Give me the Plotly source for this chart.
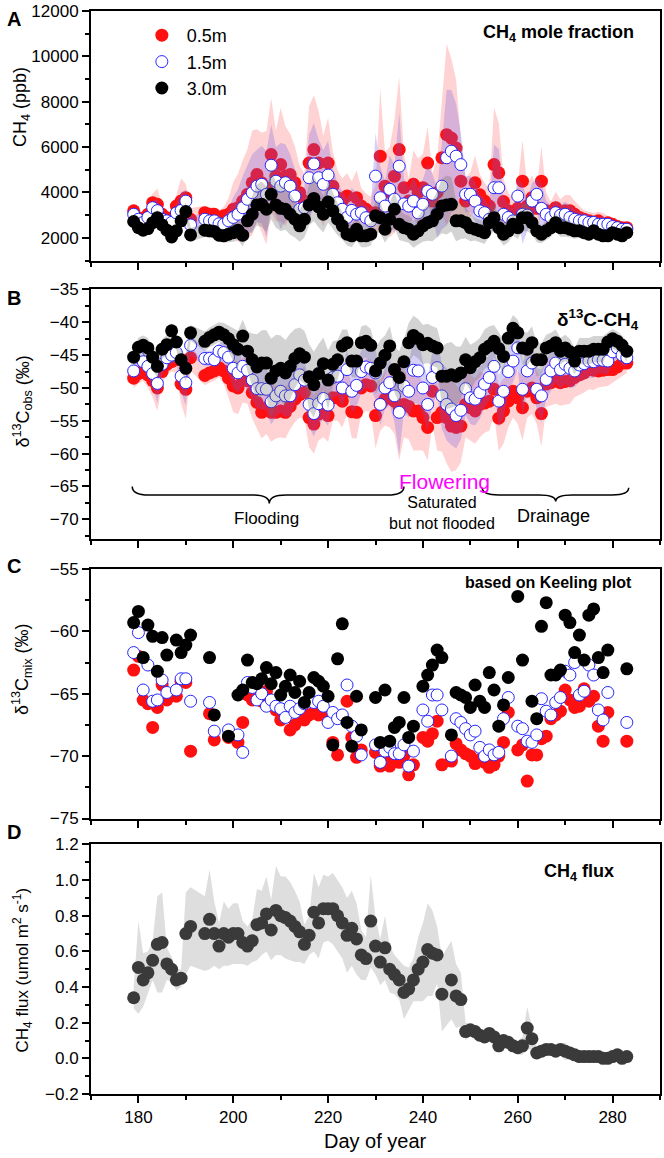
import plotly.graph_objects as go

# ---------------- data ----------------
day = list(range(179, 284))
N = None

a05 = [3190, 2890, 2750, 3040, 3550, 3480, 3040, 2890, 2820, 3400,
       3620, 3770, 2820, N, N, 3110, 3040, 3040, 2890, 2970,
       3040, 3260, 3330, 3620, 3920, 4430, 4790, 4430, 4210, 5670,
       4720, 5230, 4720, 4790, 4430, 3990, 3620, 5300, 5890, 5300,
       4500, 5300, 4280, 3770, 3620, 3850, 3190, 3770, 3400, 3260,
       3110, 3110, 5600, 4280, 4000, 4720, 5890, 4210, 3620, 4360,
       4000, 4210, 5300, 3620, 4000, 5530, 6550, 6400, 5960, 4500,
       3620, 3900, 4430, 3900, 3620, 3400, 5230, 4870, 3600, 3190,
       3040, 3300, 4500, 3400, 3770, 3300, 4500, 3190, 3000, 3330,
       3100, 3190, 3190, 3040, 2900, 2820, 2750, 2700, 2750, 2600,
       2670, 2600, 2500, 2450, 2450]
a15 = [3040, 2820, 2680, 2900, 3330, 3200, 2820, 2750, 2680, 3100,
       3210, 3620, 2570, N, N, 2820, 2750, 2750, 2620, 2600,
       2750, 2900, 3040, 3330, 3700, 3990, 4280, 4360, 3920, 5200,
       4500, 4280, 4430, 4280, 3840, 3260, 3330, 4650, 5260, 4650,
       4360, 4770, 3920, 3550, 3260, 2900, 3210, 3040, 3110, 2890,
       2750, 4720, 3770, 3400, 4140, 3700, 5160, 3500, 3400, 3620,
       3100, 3480, 4060, 3920, 3100, 4280, 5530, 5820, 5600, 5230,
       3920, 3920, 3620, 3190, 3110, 2820, 4210, 4210, 3040, 2900,
       2750, 3840, 3040, 3000, 3620, 3920, 3300, 3040, 2900, 3110,
       3000, 3040, 2900, 2820, 2750, 2750, 2680, 2680, 2600, 2600,
       2600, 2500, 2450, 2380, 2380]
a30 = [2720, 2450, 2340, 2410, 2670, 2890, 2570, 2340, 2040, 2310,
       2750, 3160, 2130, N, N, 2340, 2310, 2280, 2120, 2090,
       2160, 2230, 2340, 2120, 2750, 3040, 3450, 3480, 3260, 3920,
       3450, 3300, 3260, 3040, 2820, 2530, 2820, 3450, 3740, 3360,
       3040, 3580, 3190, 2820, 2530, 2160, 2090, 2380, 2090, 2090,
       2160, 2970, 2890, 2380, 2820, 3260, 2600, 2450, 2380, 2160,
       2310, 2530, 2670, 2750, 3040, 3400, 3450, 3480, 2750, 2750,
       2670, 2450, 2380, 2310, 2230, 2670, 2890, 2450, 2160, 2310,
       2600, 2450, 2890, 2890, 2670, 2310, 2160, 2310, 2450, 2670,
       2450, 2450, 2380, 2310, 2310, 2230, 2160, 2310, 2160, 2090,
       2090, 2230, 2160, 2090, 2230]
sd_a05 = [300, 250, 300, 450, 400, 700, 400, 300, 300, 500,
          1000, 600, 500, N, N, 300, 300, 300, 300, 400,
          700, 1200, 1500, 1800, 2000, 2300, 2000, 2200, 2500, 2500,
          2000, 2500, 2200, 1800, 1600, 1200, 1200, 2500, 2400, 2300,
          2000, 2000, 1500, 1200, 1000, 1000, 1300, 1200, 800, 700,
          700, 1200, 3000, 1500, 2000, 2500, 3200, 1500, 1000, 1500,
          1500, 1500, 1600, 1200, 1500, 2500, 4000, 3500, 3000, 1800,
          1000, 1000, 1200, 900, 800, 800, 2500, 2200, 1000, 800,
          700, 1000, 1800, 900, 1000, 900, 1500, 800, 600, 700,
          600, 700, 700, 600, 500, 400, 400, 400, 400, 500,
          300, 300, 250, 250, 250]
sd_a15 = [250, 200, 250, 350, 300, 500, 300, 250, 250, 400,
          800, 500, 400, N, N, 250, 250, 250, 250, 300,
          500, 900, 1100, 1400, 1500, 1700, 1600, 1700, 1900, 1800,
          1500, 1900, 1700, 1400, 1200, 900, 900, 1900, 1800, 1700,
          1500, 1500, 1100, 900, 800, 800, 1000, 900, 600, 550,
          550, 1900, 1400, 1100, 1500, 1500, 2400, 1100, 800, 1100,
          1100, 1100, 1200, 900, 1100, 1900, 3000, 2700, 2300, 1400,
          800, 800, 900, 700, 600, 600, 1900, 1700, 800, 600,
          550, 800, 1300, 700, 800, 700, 1100, 600, 500, 550,
          450, 550, 550, 450, 400, 300, 300, 300, 300, 350,
          250, 250, 200, 200, 200]
sd_a30 = [300, 250, 250, 300, 300, 350, 300, 250, 250, 300,
          350, 400, 300, N, N, 300, 300, 300, 300, 300,
          350, 400, 450, 500, 600, 800, 900, 1000, 1000, 1100,
          1000, 1000, 900, 900, 800, 700, 800, 900, 1000, 900,
          800, 900, 800, 700, 600, 500, 500, 500, 500, 500,
          500, 700, 700, 600, 700, 800, 700, 600, 600, 600,
          600, 700, 800, 900, 1000, 1200, 1300, 1200, 900, 800,
          700, 600, 500, 500, 500, 600, 600, 500, 500, 500,
          500, 500, 600, 600, 500, 500, 400, 400, 400, 400,
          400, 400, 350, 350, 300, 300, 300, 300, 300, 250,
          250, 250, 200, 200, 200]

b05 = [-48.5, -47.8, -47.4, -48.0, -48.9, -50.0, -47.5, -46.4, -46.0, -45.7,
       -49.4, -50.2, -45.4, N, N, -48.1, -47.7, -47.4, -46.9, -47.4,
       -48.5, -49.7, -50.0, -48.7, -48.9, -50.7, -52.2, -53.7, -53.0, -53.7,
       -53.7, -53.5, -53.7, -52.8, -51.7, -51.0, -50.7, -54.5, -55.5, -54.0,
       -53.5, -54.2, -51.5, -51.5, -52.0, -50.5, -53.6, -53.7, -50.0, -49.5,
       -49.7, -54.2, -52.5, -51.7, -51.5, -52.0, -53.0, -52.5, -52.8, -53.5,
       -53.5, -54.5, -56.0, -50.5, -54.5, -53.7, -54.5, -55.8, -56.0, -55.8,
       -52.5, -53.0, -53.5, -52.5, -52.3, -52.0, -50.2, -54.6, -53.5, -52.0,
       -50.5, -51.5, -53.0, -50.5, -50.0, -51.5, -53.9, -49.4, -49.2, -48.9,
       -49.2, -49.0, -48.9, -48.4, -48.0, -47.7, -47.2, -47.3, -47.4, -47.3,
       -47.2, -47.2, -46.8, -46.2, -46.2]
b15 = [-47.4, -45.3, -46.0, -46.7, -47.8, -49.3, -46.4, -45.4, -45.0, -44.6,
       -48.2, -49.2, -43.5, N, N, -45.5, -45.5, -45.7, -44.4, -44.6,
       -45.3, -47.0, -47.7, -46.7, -47.3, -48.8, -50.1, -50.1, -50.2, -52.1,
       -51.2, -50.5, -51.2, -51.2, -49.5, -48.0, -48.8, -52.5, -53.9, -52.4,
       -51.6, -52.6, -48.4, -48.2, -50.0, -47.2, -50.5, -49.6, -47.5, -46.8,
       -47.0, -47.7, -52.5, -50.0, -49.2, -51.2, -53.7, -49.7, -50.5, -47.3,
       -47.4, -50.0, -52.5, -48.4, -46.9, -51.2, -52.5, -53.2, -54.2, -53.4,
       -50.1, -51.5, -51.7, -50.7, -49.4, -48.4, -46.7, -52.0, -50.5, -47.5,
       -45.9, -43.9, -50.2, -47.4, -46.2, -50.2, -51.2, -48.7, -47.4, -46.2,
       -47.2, -46.4, -47.0, -47.4, -46.5, -46.3, -45.9, -46.0, -45.7, -45.8,
       -45.9, -44.5, -43.9, -45.0, -45.4]
b30 = [-45.3, -43.8, -43.5, -43.9, -45.3, -46.7, -44.1, -43.4, -41.3, -43.0,
       -45.7, -47.0, -41.6, N, N, -42.9, -42.3, -41.9, -41.5, -41.9,
       -42.5, -43.4, -44.1, -42.1, -44.4, -45.7, -46.8, -46.2, -46.2, -48.5,
       -47.4, -47.0, -47.7, -46.7, -45.5, -44.8, -45.3, -48.3, -49.5, -47.8,
       -46.3, -48.8, -46.4, -45.7, -43.6, -43.1, -45.9, -45.9, -43.1, -42.9,
       -43.5, -47.4, -46.2, -45.0, -43.6, -47.2, -48.4, -46.0, -43.1, -42.0,
       -42.5, -43.4, -43.2, -43.6, -43.9, -48.2, -48.2, -48.0, -48.2, -47.7,
       -45.7, -46.9, -46.0, -45.4, -44.1, -43.6, -42.9, -44.0, -45.2, -42.4,
       -40.9, -41.6, -43.9, -44.1, -43.1, -45.7, -45.7, -43.9, -43.6, -43.1,
       -44.4, -43.9, -44.5, -45.9, -44.4, -44.4, -44.4, -44.1, -44.1, -44.1,
       -43.0, -42.5, -42.9, -43.5, -44.4]
sd_b05 = [1.5, 1.5, 1.5, 2, 2.5, 3.5, 2, 1.5, 1.5, 2,
          3, 4.5, 2, N, N, 1.5, 1.5, 1.5, 1.5, 2,
          3, 4, 4, 3.5, 3.5, 4, 4, 4, 4, 4.5,
          4, 4, 4, 3.5, 3.5, 3.5, 4, 4.5, 4.5, 4,
          4, 4, 3.5, 3.5, 4, 3.5, 4, 4, 4, 4,
          4, 5, 4, 4, 4.5, 5, 8, 5, 5, 6,
          6, 5, 5, 5, 5, 6, 7, 7, 6.5, 5.5,
          5, 5, 5, 5, 4.5, 4.5, 4, 5, 5, 4,
          4, 4, 5, 4, 4, 4, 5, 3.5, 3.5, 3.5,
          3.5, 3.5, 3.5, 3, 3, 3, 3, 3, 2.5, 2.5,
          2.5, 2, 2, 2, 1.5]
sd_b15 = [1.2, 1.2, 1.2, 1.6, 2, 3, 1.6, 1.2, 1.2, 1.6,
          2.5, 3.5, 1.6, N, N, 1.2, 1.2, 1.2, 1.2, 1.6,
          2.5, 3, 3, 3, 3, 3, 3, 3.2, 3.2, 3.5,
          3.2, 3.2, 3.2, 3, 3, 3, 3, 3.5, 3.5, 3.2,
          3.2, 3.2, 3, 3, 3, 3, 3.2, 3.2, 3.2, 3.2,
          3.2, 4, 3.2, 3.2, 3.5, 4, 6.5, 4, 4, 5,
          5, 4, 4, 4, 4, 5, 5.5, 5.5, 5, 4.5,
          4, 4, 4, 4, 3.5, 3.5, 3.2, 4, 4, 3.2,
          3.2, 3.2, 4, 3.2, 3.2, 3.2, 4, 3, 3, 3,
          3, 3, 3, 2.5, 2.5, 2.5, 2.5, 2.5, 2, 2,
          2, 1.6, 1.6, 1.6, 1.2]
sd_b30 = [1.5, 1.5, 1.5, 1.5, 1.5, 2, 1.5, 1.5, 1.2, 1.2,
          1.5, 2, 1.2, N, N, 1.5, 1.5, 1.5, 1.5, 1.8,
          2, 2.5, 2.8, 2.5, 3, 4, 5, 5, 5, 6,
          5.5, 5, 5, 5, 4.5, 4, 4, 5, 5, 4.5,
          4, 4.5, 3.5, 3, 2.5, 2, 2.5, 2.5, 2.5, 2.5,
          2.5, 3.5, 3.5, 3, 3, 3.5, 4, 3.5, 3, 3,
          3, 3, 3, 3, 3, 4.5, 5, 5, 4.5, 4,
          3.5, 3.5, 3, 3, 3, 3, 2.5, 2.5, 2.5, 2,
          2, 2, 2.5, 2.5, 2.5, 2.5, 2.5, 2, 2, 2,
          2, 2, 2, 2, 2, 2, 2, 2, 2, 2,
          1.5, 1.5, 1.5, 1.5, 1.5]

c05 = [-63.1, -62.0, -65.5, -65.8, -67.7, -66.1, -64.3, -65.5, N, -65.2,
       -64.0, -64.1, -69.6, N, N, N, -66.6, -68.7, N, N,
       -68.5, N, -68.9, -67.3, -65.1, -65.5, -65.3, -65.6, -64.8, -65.8,
       -66.3, -67.1, -66.7, -67.9, -67.5, -66.8, -67.1, -66.7, -66.5, -66.7,
       -66.3, -67.0, -68.9, -69.9, -66.9, -65.6, -68.5, -70.1, -69.5, N,
       N, -69.7, -70.8, -70.3, -70.8, -70.2, -70.5, -70.0, -71.5, -70.7,
       N, -68.5, -68.8, -68.2, -67.2, -70.7, N, -70.4, -69.0, -69.5,
       -69.8, -70.0, -70.6, -70.3, -70.5, -70.9, -70.7, -70.0, -68.9, -66.5,
       N, -69.5, -69.1, -72.0, -69.9, -69.9, -68.6, -68.4, -67.0, -66.7,
       -66.4, -64.7, -65.5, -66.1, -66.0, -64.6, -65.6, -65.2, -67.6, -68.8,
       -66.5, N, N, N, -68.8]
c15 = [-61.7, -60.1, -64.7, -62.7, -65.6, -65.5, -63.9, -64.9, N, -64.7,
       -63.8, -63.8, -65.6, N, N, N, -65.7, -68.0, N, N,
       -67.9, N, -68.3, -69.7, -64.1, -64.5, -65.5, -65.0, -66.0, -65.5,
       -66.0, -66.2, -66.9, -66.0, -66.5, -66.2, -65.8, -65.5, -65.7, -65.6,
       -66.0, -67.3, -66.5, -67.0, -66.7, -64.3, -67.6, -68.4, -69.9, N,
       N, -69.1, -70.5, -69.6, -69.3, -69.8, -69.8, -69.1, -70.8, -69.6,
       N, -66.3, -67.2, -65.1, -65.1, -66.3, N, -70.0, -67.0, -67.3,
       -67.8, -68.3, -68.0, -69.3, -70.0, -69.5, -69.9, -69.7, -67.0, -65.3,
       N, -67.6, -67.8, -68.8, -68.9, -68.3, -65.4, -66.4, -66.7, -65.7,
       -65.3, -63.2, -63.5, -62.5, -65.1, -64.8, -62.7, -63.5, -66.3, -67.1,
       -64.9, N, N, N, -67.3]
c30 = [-59.3, -58.4, -62.1, -59.5, -60.4, -63.2, -60.5, -61.9, N, -60.7,
       -61.7, -61.1, -60.3, N, N, N, -62.1, -66.7, N, N,
       -68.4, N, -65.1, -64.7, -62.3, -64.1, -64.2, -63.8, -62.9, -64.2,
       -63.3, -65.1, -64.4, -63.5, -64.9, -64.0, -65.7, -64.9, -63.7, -64.0,
       -64.4, -65.2, -69.1, -62.2, -59.4, -67.3, -69.2, -65.2, -67.9, N,
       N, -65.3, -68.9, -64.7, -68.8, -67.7, -67.3, -65.3, -68.5, -67.6,
       N, -64.4, -63.5, -62.7, -61.5, -62.1, N, -68.3, -64.9, -65.1,
       -65.3, -66.1, -64.3, -65.6, -66.1, -63.3, -64.7, -67.6, -65.9, -63.7,
       N, -57.2, -62.3, N, -65.6, -67.0, -59.6, -57.7, -63.5, -63.5,
       -63.1, -58.7, -59.3, -61.7, -60.3, -62.3, -58.7, -58.2, -62.1, -63.3,
       -61.5, N, N, N, -63.0]

flux = [0.34, 0.51, 0.44, 0.48, 0.55, 0.64, 0.65, 0.53, 0.50, 0.44,
        0.45, 0.70, 0.74, N, N, 0.70, 0.78, 0.70, 0.63, 0.70,
        0.68, 0.70, 0.70, 0.65, 0.63, 0.66, 0.75, 0.76, 0.81, 0.72,
        0.83, 0.80, 0.79, 0.77, 0.74, 0.71, 0.64, 0.69, 0.82, 0.76,
        0.84, 0.84, 0.84, 0.80, 0.76, 0.69, 0.73, 0.67, 0.58, 0.56,
        0.77, 0.63, 0.54, 0.62, 0.50, 0.47, 0.44, 0.37, 0.39, 0.44,
        0.50, 0.54, 0.61, 0.59, 0.58, 0.36, N, 0.44, 0.35, 0.33,
        0.15, 0.16, 0.15, 0.13, 0.12, 0.14, 0.12, 0.07, 0.10, 0.09,
        0.07, 0.06, 0.07, 0.17, 0.11, 0.03, 0.04, 0.05, 0.05, 0.04,
        0.05, 0.04, 0.03, 0.02, 0.01, 0.01, 0.01, 0.01, 0.01, 0.00,
        0.00, 0.01, 0.02, 0.00, 0.01]
sd_flux = [0.06, 0.26, 0.15, 0.12, 0.11, 0.27, 0.28, 0.09, 0.07, 0.06,
           0.05, 0.23, 0.22, N, N, 0.21, 0.28, 0.18, 0.13, 0.18,
           0.16, 0.17, 0.17, 0.12, 0.11, 0.12, 0.20, 0.18, 0.21, 0.17,
           0.25, 0.22, 0.23, 0.22, 0.20, 0.17, 0.11, 0.11, 0.22, 0.20,
           0.19, 0.18, 0.20, 0.20, 0.20, 0.21, 0.21, 0.20, 0.14, 0.12,
           0.26, 0.16, 0.13, 0.18, 0.13, 0.11, 0.11, 0.15, 0.12, 0.12,
           0.18, 0.22, 0.26, 0.24, 0.16, 0.21, N, 0.22, 0.18, 0.15,
           0.05, 0.03, 0.03, 0.03, 0.03, 0.03, 0.03, 0.04, 0.04, 0.03,
           0.03, 0.04, 0.05, 0.12, 0.06, 0.03, 0.03, 0.03, 0.03, 0.03,
           0.03, 0.05, 0.03, 0.03, 0.02, 0.02, 0.02, 0.02, 0.02, 0.02,
           0.02, 0.02, 0.02, 0.02, 0.02]

labels = ["0.5m", "1.5m", "3.0m"]

# ---------------- figure ----------------
RED = "#FF1010"
BLUE = "#2525FF"
FONT = "Liberation Sans, Arial, sans-serif"

W, H = 664, 1158
ML, MR, MT, MB = 91, 2, 9, 64
PH = H - MT - MB


def ydom(top, bot):
    return [1 - (bot - MT) / PH, 1 - (top - MT) / PH]


def py(p):
    return 1 - (p - MT) / PH


def px(p):
    return (p - ML) / (W - ML - MR)


def band(x, v, s):
    pts = [(a, b, c) for a, b, c in zip(x, v, s) if b is not None and c is not None]
    xs = [p[0] for p in pts]
    up = [p[1] + p[2] for p in pts]
    lo = [p[1] - p[2] for p in pts]
    return xs + xs[::-1], up + lo[::-1]


fig = go.Figure()


def add_band(xa, ya, v, s, color):
    bx, by = band(day, v, s)
    fig.add_trace(go.Scatter(x=bx, y=by, fill="toself", fillcolor=color, mode="lines",
                             line=dict(width=0), hoverinfo="skip", showlegend=False,
                             xaxis=xa, yaxis=ya))


def add_pts(xa, ya, v, kind, legend=False):
    if kind == 0:
        m = dict(size=13, color=RED, line=dict(width=0))
    elif kind == 1:
        m = dict(size=12, color="white", line=dict(width=1, color=BLUE))
    else:
        m = dict(size=13, color="black", line=dict(width=0))
    fig.add_trace(go.Scatter(x=day, y=v, mode="markers", marker=m, name=labels[kind],
                             showlegend=legend, xaxis=xa, yaxis=ya, cliponaxis=True))


PINK = "rgba(255,70,70,0.24)"
LAV = "rgba(110,90,230,0.28)"
GREY = "rgba(110,110,110,0.30)"

# Panel A
add_band("x", "y", a05, sd_a05, PINK)
add_pts("x", "y", a05, 0, True)
add_band("x", "y", a15, sd_a15, LAV)
add_pts("x", "y", a15, 1, True)
add_band("x", "y", a30, sd_a30, GREY)
add_pts("x", "y", a30, 2, True)
# Panel B
add_band("x2", "y2", b05, sd_b05, PINK)
add_pts("x2", "y2", b05, 0)
add_band("x2", "y2", b15, sd_b15, LAV)
add_pts("x2", "y2", b15, 1)
add_band("x2", "y2", b30, sd_b30, GREY)
add_pts("x2", "y2", b30, 2)
# Panel C
add_pts("x3", "y3", c05, 0)
add_pts("x3", "y3", c15, 1)
add_pts("x3", "y3", c30, 2)
# Panel D
add_band("x4", "y4", flux, sd_flux, "rgba(200,200,200,0.6)")
fig.add_trace(go.Scatter(x=day, y=flux, mode="markers", showlegend=False,
                         marker=dict(size=13, color="#3a3a3a"), xaxis="x4", yaxis="y4"))

TICKF = 17
axcommon = dict(showline=True, linewidth=2, linecolor="black", mirror=True, ticks="outside",
                ticklen=7, tickwidth=1.5, tickcolor="black", showgrid=False, zeroline=False,
                tickfont=dict(size=TICKF, color="black", family=FONT))
xcommon = dict(axcommon, range=[170, 290], tick0=180, dtick=20,
               minor=dict(ticks="outside", dtick=10, tick0=170, ticklen=4, tickwidth=1.5,
                          tickcolor="black"))

doms = [ydom(9, 259), ydom(288, 538), ydom(568, 818), ydom(844, 1094)]

layout = dict(
    width=W, height=H, margin=dict(l=ML, r=MR, t=MT, b=MB),
    paper_bgcolor="white", plot_bgcolor="white",
    font=dict(family=FONT, color="black"),
    showlegend=True,
    legend=dict(x=px(137), y=py(15), xanchor="left", yanchor="top", itemwidth=40,
                bgcolor="rgba(0,0,0,0)", font=dict(size=18), tracegroupgap=0),
    xaxis=dict(xcommon, anchor="y", showticklabels=False),
    xaxis2=dict(xcommon, anchor="y2", showticklabels=False),
    xaxis3=dict(xcommon, anchor="y3", showticklabels=False),
    xaxis4=dict(xcommon, anchor="y4", showticklabels=True),
    yaxis=dict(axcommon, domain=doms[0], anchor="x", range=[1000, 12000], tick0=2000, dtick=2000,
               tickformat="d",
               minor=dict(ticks="outside", dtick=1000, tick0=1000, ticklen=4, tickwidth=1.5,
                          tickcolor="black")),
    yaxis2=dict(axcommon, domain=doms[1], anchor="x2", range=[-73, -35], tick0=-35, dtick=5,
                minor=dict(ticks="outside", dtick=2.5, tick0=-35, ticklen=4, tickwidth=1.5,
                           tickcolor="black")),
    yaxis3=dict(axcommon, domain=doms[2], anchor="x3", range=[-75, -55], tick0=-55, dtick=5,
                minor=dict(ticks="outside", dtick=2.5, tick0=-55, ticklen=4, tickwidth=1.5,
                           tickcolor="black")),
    yaxis4=dict(axcommon, domain=doms[3], anchor="x4", range=[-0.2, 1.2], tick0=0, dtick=0.2,
                tickformat=".1f",
                minor=dict(ticks="outside", dtick=0.1, tick0=0, ticklen=4, tickwidth=1.5,
                           tickcolor="black")),
)
fig.update_layout(**layout)

ann = []
# panel letters
for letter, ypix in zip("ABCD", [17, 297, 565, 832]):
    ann.append(dict(text="<b>%s</b>" % letter, x=px(14), y=py(ypix), xref="paper", yref="paper",
                    xanchor="center", yanchor="middle", showarrow=False, font=dict(size=20)))
# y titles
ytitles = ["CH<sub>4</sub> (ppb)", "δ<sup>13</sup>C<sub>obs</sub> (‰)",
           "δ<sup>13</sup>C<sub>mix</sub> (‰)", "CH<sub>4</sub> flux (umol m<sup>2</sup> s<sup>-1</sup>)"]
ysz = [18, 18, 18, 17]
for t, ypix, s in zip(ytitles, [105, 400, 668, 970], ysz):
    ann.append(dict(text=t, x=px(22), y=py(ypix), xref="paper", yref="paper", textangle=-90,
                    xanchor="center", yanchor="middle", showarrow=False, font=dict(size=s)))
# panel titles
ptitles = [("<b>CH<sub>4</sub> mole fraction</b>", 638, 32, 18),
           ("<b>δ<sup>13</sup>C-CH<sub>4</sub></b>", 643, 318, 19),
           ("<b>based on Keeling plot</b>", 636, 582, 16),
           ("<b>CH<sub>4</sub> flux</b>", 618, 872, 18)]
for t, xp, yp, s in ptitles:
    ann.append(dict(text=t, x=px(xp), y=py(yp), xref="paper", yref="paper", xanchor="right",
                    yanchor="middle", showarrow=False, font=dict(size=s)))
# x title
ann.append(dict(text="Day of year", x=px(376), y=py(1141), xref="paper", yref="paper",
                xanchor="center", yanchor="middle", showarrow=False, font=dict(size=20)))
# phase labels in panel B
ann.append(dict(text="Flooding", x=207, y=-69.8, xref="x2", yref="y2", showarrow=False,
                font=dict(size=17)))
ann.append(dict(text="Saturated<br>but not flooded", x=244, y=-69.0, xref="x2", yref="y2",
                showarrow=False, font=dict(size=16)))
ann.append(dict(text="Flowering", x=244.5, y=-64.2, xref="x2", yref="y2", showarrow=False,
                font=dict(size=21, color="#FF00FF")))
ann.append(dict(text="Drainage", x=267.6, y=-69.5, xref="x2", yref="y2", showarrow=False,
                font=dict(size=18)))
fig.update_layout(annotations=ann)


def brace(x0, x1, xc, ytop, ymid, ytip, d=3.5):
    return ("M %g,%g Q %g,%g %g,%g L %g,%g Q %g,%g %g,%g Q %g,%g %g,%g L %g,%g Q %g,%g %g,%g" % (
        x0, ytop, x0, ymid, x0 + d, ymid, xc - d, ymid, xc, ymid, xc, ytip,
        xc, ymid, xc + d, ymid, x1 - d, ymid, x1, ymid, x1, ytop))


shapes = [
    dict(type="path", xref="x2", yref="y2", path=brace(178.7, 236, 207.6, -65.0, -66.3, -67.6),
         line=dict(color="black", width=1.5)),
    dict(type="path", xref="x2", yref="y2", path=brace(252.5, 283.4, 268, -65.2, -66.3, -67.3),
         line=dict(color="black", width=1.5)),
]
fig.update_layout(shapes=shapes)

fig.write_html("out.html")
